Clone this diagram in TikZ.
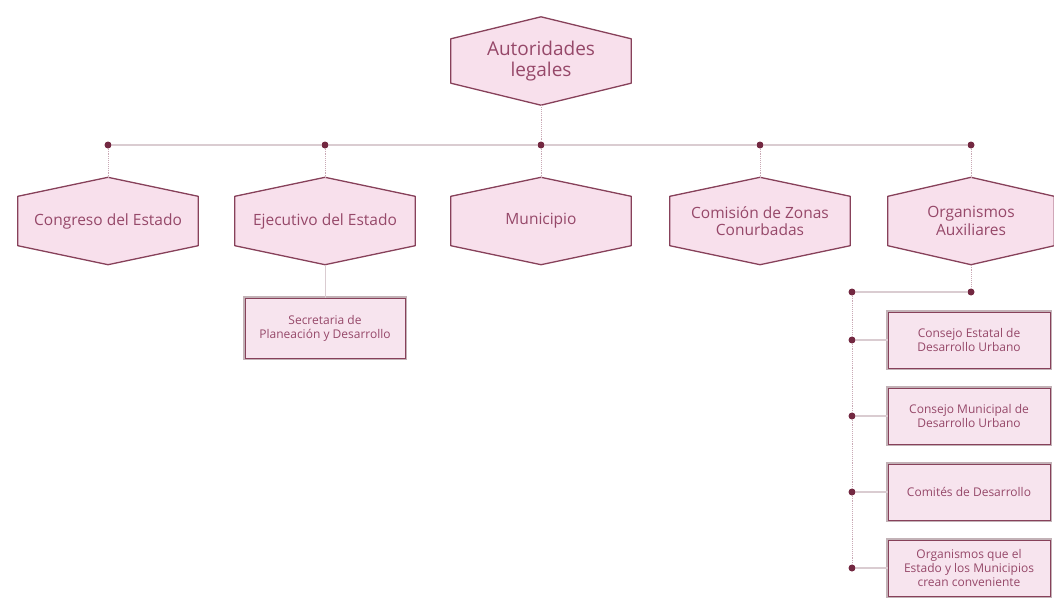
\documentclass[tikz,border=0pt]{standalone}
\usepackage{fontspec}
\setmainfont{Open Sans}
\usetikzlibrary{backgrounds}

\definecolor{hexfill}{RGB}{248,224,236}
\definecolor{boxfill}{RGB}{247,228,238}
\definecolor{edge}{RGB}{135,65,90}
\definecolor{ink}{RGB}{150,72,105}
\definecolor{dotc}{RGB}{115,40,65}
\definecolor{rule}{RGB}{218,204,209}
\definecolor{frame}{RGB}{195,178,183}

% outline of a pointed-top hexagon around a named node
\newcommand\hexoutline[2]{%
  \begin{pgfonlayer}{background}
    \draw[edge, line width=1.3pt, fill=hexfill, line join=round]
      (#1.north) -- ([yshift=-#2]#1.north east) -- ([yshift=#2]#1.south east)
      -- (#1.south) -- ([yshift=#2]#1.south west) -- ([yshift=-#2]#1.north west) -- cycle;
  \end{pgfonlayer}}

\begin{document}
\begin{tikzpicture}[x=1pt,y=-1pt,
  hexnode/.style={rectangle, minimum width=180pt, minimum height=87pt, inner sep=0pt,
    align=center, text=ink, font=\fontsize{15.5}{17.5}\selectfont},
  boxnode/.style={rectangle, draw=edge, line width=0.9pt, fill=boxfill,
    preaction={draw=frame, line width=4pt}, minimum width=162pt, minimum height=56pt,
    inner sep=2pt, align=center, text=ink, font=\fontsize{12}{14}\selectfont},
  dot/.style={circle, fill=dotc, inner sep=0pt, minimum size=7pt},
  trunk/.style={draw=rule, line width=1.3pt},
  stem/.style={draw=edge!45, line width=0.9pt, densely dotted},
  branch/.style={draw=rule, line width=1.3pt},
]
\useasboundingbox (0,0) rectangle (1054,597);

% top authority
\node[hexnode, minimum height=88pt, font=\fontsize{19}{21}\selectfont] (top) at (541,61) {Autoridades\\legales};
\hexoutline{top}{22pt}

% second level
\node[hexnode] (cong) at (108,221) {Congreso del Estado};
\node[hexnode] (ejec) at (325,221) {Ejecutivo del Estado};
\node[hexnode] (mun)  at (541,221) {Municipio};
\node[hexnode] (com)  at (760,221) {Comisión de Zonas\\Conurbadas};
\node[hexnode, minimum width=166pt] (org) at (971,221) {Organismos\\Auxiliares};
\foreach \n in {cong,ejec,mun,com,org}{\hexoutline{\n}{19pt}}

% junction dots
\node[dot] (dtop)  at (541,145) {};
\node[dot] (dcong) at (108,145) {};
\node[dot] (dejec) at (325,145) {};
\node[dot] (dcom)  at (760,145) {};
\node[dot] (dorg)  at (971,145) {};

\draw[trunk] (dcong) -- (dejec) -- (dtop) -- (dcom) -- (dorg);
\draw[stem] (top.south) -- (dtop);
\draw[stem] (dcong) -- (cong.north);
\draw[stem] (dejec) -- (ejec.north);
\draw[stem] (dtop) -- (mun.north);
\draw[stem] (dcom) -- (com.north);
\draw[stem] (dorg) -- (org.north);

% under the executive
\node[boxnode, minimum width=160pt, minimum height=60pt] (sec) at (325,328) {Secretaria de\\Planeación y Desarrollo};
\draw[branch, line width=1pt] (ejec.south) -- (sec);

% auxiliary bodies
\node[dot] (daux) at (971,292) {};
\node[dot] (dleft) at (852,292) {};
\node[dot] (d1) at (852,340) {};
\node[dot] (d2) at (852,416) {};
\node[dot] (d3) at (852,492) {};
\node[dot] (d4) at (852,568) {};

\node[boxnode] (b1) at (969,340) {Consejo Estatal de\\Desarrollo Urbano};
\node[boxnode] (b2) at (969,416) {Consejo Municipal de\\Desarrollo Urbano};
\node[boxnode] (b3) at (969,492) {Comités de Desarrollo};
\node[boxnode] (b4) at (969,568) {Organismos que el\\Estado y los Municipios\\crean conveniente};

\draw[stem] (org.south) -- (daux);
\draw[branch] (dleft) -- (daux);
\draw[stem] (dleft) -- (d1) -- (d2) -- (d3) -- (d4);
\foreach \i in {1,2,3,4}{\draw[branch] (d\i) -- (b\i);}
\end{tikzpicture}
\end{document}
